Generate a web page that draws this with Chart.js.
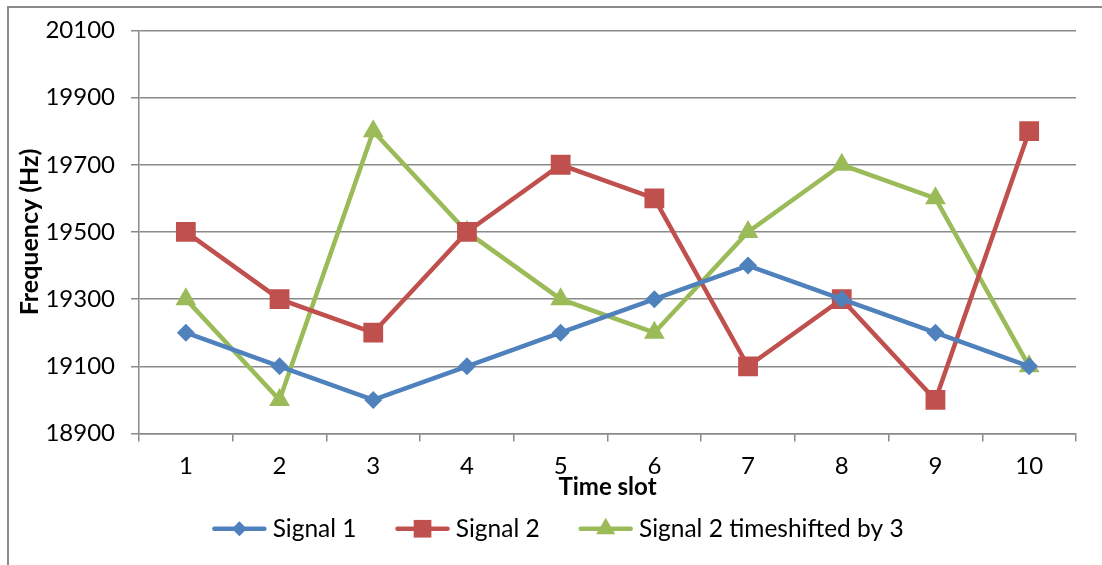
<!DOCTYPE html>
<html>
<head>
<meta charset="utf-8">
<script src="https://cdn.jsdelivr.net/npm/chart.js@4"></script>
<style>
  html, body { margin: 0; padding: 0; background: #fff; }
  #wrap { position: relative; width: 1102px; height: 565px; overflow: hidden; }
  #frame { position: absolute; left: 7px; top: 6px; width: 1200px; height: 700px; border: 2px solid #8a8a8a; box-sizing: border-box; }
  canvas { position: absolute; left: 0; top: 0; }
</style>
</head>
<body>
<div id="wrap">
  <div id="frame"></div>
  <canvas id="chart" width="1102" height="565"></canvas>
</div>
<script>
/* chart data */
const timeSlots = ['1', '2', '3', '4', '5', '6', '7', '8', '9', '10'];
const signal1 = [19200, 19100, 19000, 19100, 19200, 19300, 19400, 19300, 19200, 19100];
const signal2 = [19500, 19300, 19200, 19500, 19700, 19600, 19100, 19300, 19000, 19800];
const signal2Shifted = [19300, 19000, 19800, 19500, 19300, 19200, 19500, 19700, 19600, 19100];
const seriesNames = ['Signal 1', 'Signal 2', 'Signal 2 timeshifted by 3'];
const yMin = 18900, yMax = 20100, yStep = 200;

const COLORS = ['#4F81BD', '#C0504D', '#9BBB59'];
const MARKERS = [
  { pointStyle: 'rectRot', radius: 9, legendRadius: 7.5 },
  { pointStyle: 'rect', radius: 14, legendRadius: 12.5 },
  { pointStyle: 'triangle', radius: 12, legendRadius: 11 }
];
const FONT = 'Lato, "Open Sans", sans-serif';
const GRID = '#8a8a8a';
const LEGEND_LINE = 54;

function makeSet(i, data) {
  return {
    label: seriesNames[i],
    data: data,
    borderColor: COLORS[i],
    backgroundColor: COLORS[i],
    borderWidth: 4.5,
    pointStyle: MARKERS[i].pointStyle,
    pointRadius: MARKERS[i].radius,
    pointHoverRadius: MARKERS[i].radius,
    pointBorderWidth: 0,
    tension: 0
  };
}

// draws a line with the marker in the middle for each legend entry, Excel style
const legendMarkers = {
  id: 'legendMarkers',
  afterDraw(chart) {
    const legend = chart.legend;
    if (!legend || !legend.legendHitBoxes) return;
    const ctx = chart.ctx;
    legend.legendHitBoxes.forEach((box, i) => {
      const m = MARKERS[i];
      const cy = box.top + box.height / 2;
      ctx.save();
      ctx.strokeStyle = COLORS[i];
      ctx.fillStyle = COLORS[i];
      ctx.lineWidth = 4.5;
      ctx.lineCap = 'round';
      ctx.beginPath();
      ctx.moveTo(box.left + 2, cy);
      ctx.lineTo(box.left + LEGEND_LINE - 2, cy);
      ctx.stroke();
      Chart.helpers.drawPoint(ctx, {
        pointStyle: m.pointStyle,
        radius: m.legendRadius,
        rotation: 0,
        borderWidth: 0
      }, box.left + LEGEND_LINE / 2, cy);
      ctx.restore();
    });
  }
};

new Chart(document.getElementById('chart'), {
  type: 'line',
  data: {
    labels: timeSlots,
    datasets: [makeSet(0, signal1), makeSet(1, signal2), makeSet(2, signal2Shifted)]
  },
  plugins: [legendMarkers],
  options: {
    responsive: false,
    animation: false,
    layout: { padding: { top: 30, right: 26, left: 40, bottom: 14 } },
    scales: {
      x: {
        offset: true,
        afterFit: s => { s.height = 44; },
        grid: { display: true, drawOnChartArea: false, offset: true, tickLength: 8, color: GRID, lineWidth: 1.5 },
        border: { color: GRID, width: 1.5 },
        ticks: { color: '#000', padding: 10, font: { family: FONT, size: 24 } },
        title: { display: true, text: 'Time slot', color: '#000', padding: { top: 0, bottom: -24 }, font: { family: FONT, size: 24, weight: 'bold' } }
      },
      y: {
        min: yMin,
        max: yMax,
        afterFit: s => { s.width = 99; },
        grid: { color: GRID, lineWidth: 1.5, tickLength: 8 },
        border: { color: GRID, width: 1.5 },
        ticks: { stepSize: yStep, color: '#000', padding: 16, font: { family: FONT, size: 24 }, callback: v => String(v) },
        title: { display: true, text: 'Frequency (Hz)', color: '#000', padding: { top: -25, bottom: 0 }, font: { family: FONT, size: 25, weight: 'bold' } }
      }
    },
    plugins: {
      tooltip: { enabled: false },
      legend: {
        position: 'bottom',
        labels: {
          boxWidth: 48,
          boxHeight: 4,
          padding: 39,
          color: '#000',
          font: { family: FONT, size: 24.5 },
          generateLabels: chart => chart.data.datasets.map((ds, i) => ({
            text: ds.label,
            fillStyle: 'rgba(0,0,0,0)',
            strokeStyle: 'rgba(0,0,0,0)',
            lineWidth: 0,
            datasetIndex: i
          }))
        }
      }
    }
  }
});
</script>
</body>
</html>
